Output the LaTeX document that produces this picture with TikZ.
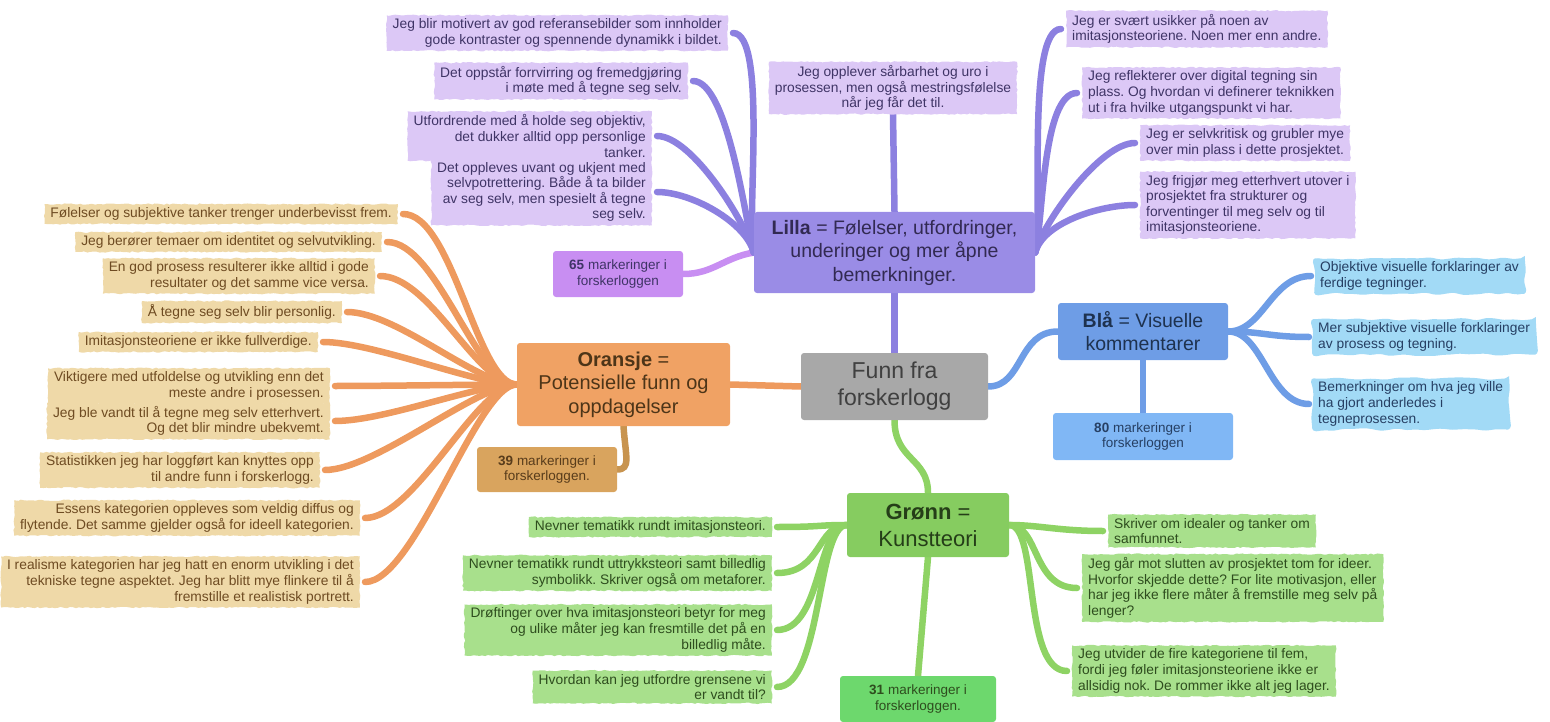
\documentclass[tikz,border=0pt]{standalone}
\usepackage{fontspec}
\setmainfont{Liberation Sans}
\frenchspacing
\usetikzlibrary{backgrounds, decorations.pathmorphing}

\definecolor{lillabox}{HTML}{9A8CE6}
\definecolor{lillaleaf}{HTML}{DCC8F6}
\definecolor{lillaline}{HTML}{8C80E0}
\definecolor{lillatext}{HTML}{3F3466}
\definecolor{violetbox}{HTML}{C88EF2}
\definecolor{oransjebox}{HTML}{F0A264}
\definecolor{oransjeleaf}{HTML}{EFD9A8}
\definecolor{oransjeline}{HTML}{EE9A5E}
\definecolor{oransjetext}{HTML}{6E4B22}
\definecolor{tanbox}{HTML}{D9A45E}
\definecolor{tanline}{HTML}{C8944F}
\definecolor{blaabox}{HTML}{6E9DE6}
\definecolor{blaaleaf}{HTML}{A2DAF6}
\definecolor{blaaline}{HTML}{6E9DE6}
\definecolor{blaatext}{HTML}{263F63}
\definecolor{lightblaa}{HTML}{80B7F5}
\definecolor{gronnbox}{HTML}{86CC60}
\definecolor{gronnleaf}{HTML}{A8E08C}
\definecolor{gronnline}{HTML}{8ED364}
\definecolor{gronntext}{HTML}{2E4D1E}
\definecolor{brightgronn}{HTML}{6DD86D}
\definecolor{funnbox}{HTML}{A8A8A8}

\tikzset{
	hub/.style={rounded corners=3pt, align=center, inner sep=0pt},
	count/.style={rounded corners=3pt, align=center, inner sep=0pt, font=\fontsize{13.5}{15.5}\selectfont},
	leaf/.style={font=\fontsize{13.8}{15.6}\selectfont, inner xsep=6pt, inner ysep=3.5pt,
		decorate, decoration={random steps, segment length=3pt, amplitude=0.7pt}},
	lleaf/.style={leaf, fill=lillaleaf, text=lillatext},
	oleaf/.style={leaf, fill=oransjeleaf, text=oransjetext, anchor=east, align=right},
	gleaf/.style={leaf, fill=gronnleaf, text=gronntext},
	bleaf/.style={leaf, fill=blaaleaf, text=blaatext, anchor=west, align=left,
		decoration={random steps, segment length=9pt, amplitude=1.5pt}, rounded corners=4pt},
	branch/.style={line width=6.5pt, line cap=round},
}

\begin{document}
\begin{tikzpicture}[x=1pt, y=-1pt]
\useasboundingbox (0,0) rectangle (1550,722);

% hovednoder
\node[hub, fill=funnbox, text=black!75, minimum width=187pt, minimum height=67pt,
	font=\fontsize{23}{27}\selectfont] (funn) at (894.5,386.5) {Funn fra\\forskerlogg};
\node[hub, fill=lillabox, text=lillatext!80!black, minimum width=281pt, minimum height=81pt,
	font=\fontsize{19.5}{23.5}\selectfont] (lilla) at (894.5,252.5)
	{\textbf{Lilla} = Følelser, utfordringer,\\underinger og mer åpne\\bemerkninger.};
\node[hub, fill=oransjebox, text=oransjetext!70!black, minimum width=213pt, minimum height=83pt,
	font=\fontsize{20}{23.5}\selectfont] (oransje) at (623.5,384.5)
	{\textbf{Oransje} =\\Potensielle funn og\\oppdagelser};
\node[hub, fill=blaabox, text=blaatext!80!black, minimum width=170pt, minimum height=57pt,
	font=\fontsize{19.5}{23}\selectfont] (blaa) at (1143,331.5)
	{\textbf{Blå} = Visuelle\\kommentarer};
\node[hub, fill=gronnbox, text=gronntext!80!black, minimum width=162pt, minimum height=64pt,
	font=\fontsize{22}{27}\selectfont] (gronn) at (928,525)
	{\textbf{Grønn} =\\Kunstteori};

% antall markeringer
\node[count, fill=violetbox, text=lillatext, minimum width=130pt, minimum height=46pt] (n65) at (618,274)
	{\textbf{65} markeringer i\\forskerloggen};
\node[count, fill=tanbox, text=oransjetext!80!black, minimum width=140pt, minimum height=45pt] (n39) at (547,469.5)
	{\textbf{39} markeringer i\\forskerloggen.};
\node[count, fill=lightblaa, text=blaatext, minimum width=180pt, minimum height=47pt] (n80) at (1143,436.5)
	{\textbf{80} markeringer i\\forskerloggen};
\node[count, fill=brightgronn, text=gronntext, minimum width=156pt, minimum height=46pt] (n31) at (918,699)
	{\textbf{31} markeringer i\\forskerloggen.};

% lilla blader
\node[lleaf, align=center] (topleaf) at (893,88)
	{Jeg opplever sårbarhet og uro i\\prosessen, men også mestringsfølelse\\når jeg får det til.};
\node[lleaf, anchor=east, align=right] (l1) at (728,33)
	{Jeg blir motivert av god referansebilder som innholder\\gode kontraster og spennende dynamikk i bildet.};
\node[lleaf, anchor=east, align=right] (l2) at (688,81)
	{Det oppstår forrvirring og fremedgjøring\\i møte med å tegne seg selv.};
\node[lleaf, anchor=east, align=right] (l3) at (652,136)
	{Utfordrende med å holde seg objektiv,\\det dukker alltid opp personlige\\tanker.};
\node[lleaf, anchor=east, align=right] (l4) at (652,192)
	{Det oppleves uvant og ukjent med\\selvpotrettering. Både å ta bilder\\av seg selv, men spesielt å tegne\\seg selv.};
\node[lleaf, anchor=west, align=left] (r1) at (1066,29)
	{Jeg er svært usikker på noen av\\imitasjonsteoriene. Noen mer enn andre.};
\node[lleaf, anchor=west, align=left] (r2) at (1082,93)
	{Jeg reflekterer over digital tegning sin\\plass. Og hvordan vi definerer teknikken\\ut i fra hvilke utgangspunkt vi har.};
\node[lleaf, anchor=west, align=left] (r3) at (1140,143)
	{Jeg er selvkritisk og grubler mye\\over min plass i dette prosjektet.};
\node[lleaf, anchor=west, align=left] (r4) at (1140,205)
	{Jeg frigjør meg etterhvert utover i\\prosjektet fra strukturer og\\forventinger til meg selv og til\\imitasjonsteoriene.};

% oransje blader
\node[oleaf] (o1) at (398,214) {Følelser og subjektive tanker trenger underbevisst frem.};
\node[oleaf] (o2) at (382,242) {Jeg berører temaer om identitet og selvutvikling.};
\node[oleaf] (o3) at (375,276) {En god prosess resulterer ikke alltid i gode\\resultater og det samme vice versa.};
\node[oleaf] (o4) at (342,312) {Å tegne seg selv blir personlig.};
\node[oleaf] (o5) at (318,342) {Imitasjonsteoriene er ikke fullverdige.};
\node[oleaf] (o6) at (330,386) {Viktigere med utfoldelse og utvikling enn det\\meste andre i prosessen.};
\node[oleaf] (o7) at (330,421) {Jeg ble vandt til å tegne meg selv etterhvert.\\Og det blir mindre ubekvemt.};
\node[oleaf] (o8) at (320,470) {Statistikken jeg har loggført kan knyttes opp\\til andre funn i forskerlogg.};
\node[oleaf] (o9) at (360,518) {Essens kategorien oppleves som veldig diffus og\\flytende. Det samme gjelder også for ideell kategorien.};
\node[oleaf] (o10) at (360,582) {I realisme kategorien har jeg hatt en enorm utvikling i det\\tekniske tegne aspektet. Jeg har blitt mye flinkere til å\\fremstille et realistisk portrett.};

% blå blader
\node[bleaf] (b1) at (1314,276) {Objektive visuelle forklaringer av\\ferdige tegninger.};
\node[bleaf] (b2) at (1312,337) {Mer subjektive visuelle forklaringer\\av prosess og tegning.};
\node[bleaf] (b3) at (1312,404) {Bemerkninger om hva jeg ville\\ha gjort anderledes i\\tegneprosessen.};

% grønne blader
\node[gleaf, anchor=east, align=right] (g1) at (772,527) {Nevner tematikk rundt imitasjonsteori.};
\node[gleaf, anchor=east, align=right] (g2) at (772,573) {Nevner tematikk rundt uttrykksteori samt billedlig\\symbolikk. Skriver også om metaforer.};
\node[gleaf, anchor=east, align=right] (g3) at (772,630) {Drøftinger over hva imitasjonsteori betyr for meg\\og ulike måter jeg kan fresmtille det på en\\billedlig måte.};
\node[gleaf, anchor=east, align=right] (g4) at (772,687) {Hvordan kan jeg utfordre grensene vi\\er vandt til?};
\node[gleaf, anchor=west, align=left] (gr1) at (1108,531) {Skriver om idealer og tanker om\\samfunnet.};
\node[gleaf, anchor=west, align=left] (gr2) at (1082,588) {Jeg går mot slutten av prosjektet tom for ideer.\\Hvorfor skjedde dette? For lite motivasjon, eller\\har jeg ikke flere måter å fremstille meg selv på\\lenger?};
\node[gleaf, anchor=west, align=left] (gr3) at (1072,671) {Jeg utvider de fire kategoriene til fem,\\fordi jeg føler imitasjonsteoriene ikke er\\allsidig nok. De rommer ikke alt jeg lager.};

\begin{scope}[on background layer]
	% fra midten
	\draw[branch, lillaline] (funn.north) -- (lilla.south);
	\draw[branch, lillaline] (lilla.north) -- (topleaf.south);
	\draw[branch, oransjeline] (funn.west) -- (oransje.east);
	\draw[branch, blaaline] (funn.east) .. controls +(35,0) and +(-40,0) .. (blaa.west);
	\draw[branch, gronnline] (funn.south) .. controls +(0,40) and +(0,-35) .. (gronn.north);
	\draw[branch, blaaline] (blaa.south) -- (n80.north);
	\draw[branch, gronnline] (gronn.south) -- (n31.north);
	\draw[branch, tanline] (oransje.south) .. controls +(2,30) and +(14,0) .. (n39.east);
	\draw[branch, violetbox] (n65.east) .. controls +(30,0) and +(-30,5) .. (lilla.west);
	% grener
	\foreach \n in {l1,l2,l3,l4}
		\draw[branch, lillaline] (lilla.west) .. controls +(-8,-30) and +(35,0) .. ([xshift=5pt]\n.east);
	\foreach \n in {r1,r2,r3,r4}
		\draw[branch, lillaline] (lilla.east) .. controls +(8,-30) and +(-35,0) .. ([xshift=-5pt]\n.west);
	\foreach \n in {o1,o2,o3,o4,o5,o6,o7,o8,o9,o10}
		\draw[branch, oransjeline] (oransje.west) .. controls +(-40,0) and +(50,0) .. ([xshift=5pt]\n.east);
	\foreach \n in {b1,b2,b3}
		\draw[branch, blaaline] (blaa.east) .. controls +(35,0) and +(-40,0) .. ([xshift=-3pt]\n.west);
	\foreach \n in {g1,g2,g3,g4}
		\draw[branch, gronnline] (gronn.west) .. controls +(-30,0) and +(45,0) .. ([xshift=5pt]\n.east);
	\foreach \n in {gr1,gr2,gr3}
		\draw[branch, gronnline] (gronn.east) .. controls +(30,0) and +(-45,0) .. ([xshift=-5pt]\n.west);
\end{scope}
\end{tikzpicture}
\end{document}
